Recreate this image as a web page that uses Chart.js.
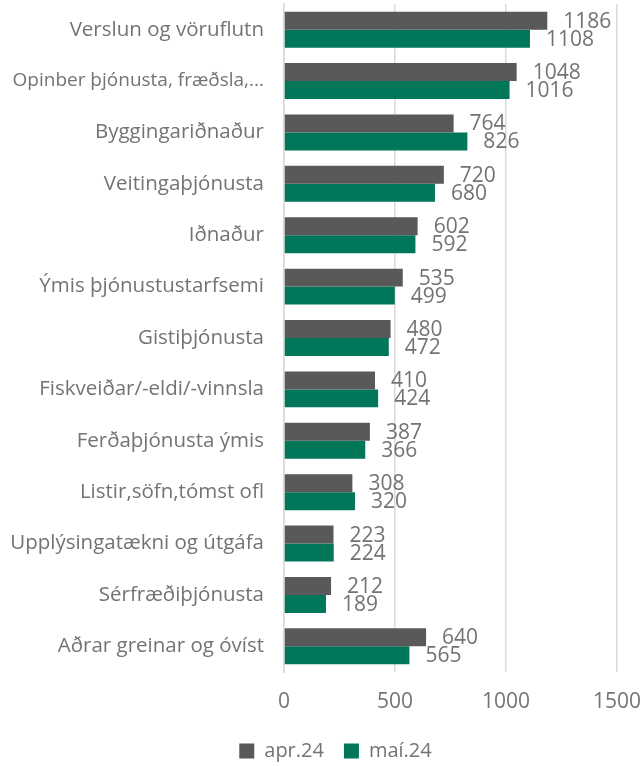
<!DOCTYPE html>
<html><head><meta charset="utf-8">
<script src="https://cdn.jsdelivr.net/npm/chart.js@4/dist/chart.umd.min.js"></script>
<style>html,body{margin:0;padding:0;background:#fff}#wrap{width:642px;height:767px}</style>
</head><body><div id="wrap"><canvas id="c" width="642" height="767"></canvas></div>
<script>
const categories = ["Verslun og vöruflutn","Opinber þjónusta, fræðsla,...","Byggingariðnaður","Veitingaþjónusta","Iðnaður","Ýmis þjónustustarfsemi","Gistiþjónusta","Fiskveiðar/-eldi/-vinnsla","Ferðaþjónusta ýmis","Listir,söfn,tómst ofl","Upplýsingatækni og útgáfa","Sérfræðiþjónusta","Aðrar greinar og óvíst"];
const apr24 = [1186,1048,764,720,602,535,480,410,387,308,223,212,640];
const mai24 = [1108,1016,826,680,592,499,472,424,366,320,224,189,565];
const seriesNames = ["apr.24","maí.24"];
const xTicks = [0,500,1000,1500];

const FONT = "'Open Sans', 'Noto Sans', sans-serif";
const TEXT = '#737373';
const labelPlugin = {
  id: 'barLabels',
  afterDatasetsDraw(chart) {
    const ctx = chart.ctx;
    ctx.save();
    ctx.font = "21px " + FONT;
    ctx.fillStyle = TEXT;
    ctx.textBaseline = "middle";
    ctx.textAlign = "left";
    chart.data.datasets.forEach((ds, di) => {
      const meta = chart.getDatasetMeta(di);
      meta.data.forEach((bar, i) => {
        ctx.fillText(String(ds.data[i]), bar.x + 16, bar.y + 1);
      });
    });
    ctx.restore();
  }
};
const legendFix = {
  id: 'legendFix',
  beforeInit(chart) {
    const orig = chart.legend.fit;
    chart.legend.fit = function() { orig.call(this); this.height = 46; };
  },
  afterLayout(chart) {
    chart.legend.left = 54;
  }
};

new Chart(document.getElementById('c'), {
  type: 'bar',
  data: {
    labels: categories,
    datasets: [
      {label: seriesNames[0], data: apr24, backgroundColor: '#595959', borderWidth:0},
      {label: seriesNames[1], data: mai24, backgroundColor: '#00765A', borderWidth:0}
    ]
  },
  options: {
    indexAxis: 'y',
    responsive: false,
    animation: false,
    layout: {padding: {top: 4, right: 25, left: 0, bottom: 0}},
    datasets: {bar: {categoryPercentage: 0.7, barPercentage: 1.0}},
    scales: {
      x: {
        min: 0, max: 1500,
        afterBuildTicks(scale) { scale.ticks = xTicks.map(v => ({value: v})); },
        afterFit(scale) { scale.paddingLeft = 0; scale.paddingRight = 0; scale.height = 49; },
        grid: {color: '#d9d9d9', lineWidth: 1.5, drawTicks: false},
        border: {display: false},
        ticks: {color: TEXT, font: {size: 21, family: FONT}, padding: 17, callback: v => String(v)}
      },
      y: {
        grid: {display: false, drawTicks: false},
        border: {display: true, color: '#d9d9d9', width: 1.5},
        ticks: {color: TEXT, autoSkip: false, padding: 20,
          font: (c) => ({size: (categories[c.index] || '').length > 26 ? 19 : 20.5, family: FONT})},
        afterFit(scale) { scale.width = 284; scale.paddingTop = 0; scale.paddingBottom = 0; }
      }
    },
    plugins: {
      legend: {
        position: 'bottom',
        labels: {color: TEXT, font: {size: 20, family: FONT}, boxWidth: 15, boxHeight: 15, padding: 20}
      },
      tooltip: {enabled: false}
    }
  },
  plugins: [labelPlugin, legendFix]
});
</script>
</body></html>
